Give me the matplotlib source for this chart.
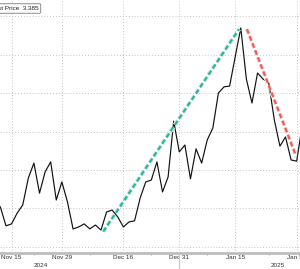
import matplotlib
matplotlib.use("Agg")
import matplotlib.pyplot as plt
import matplotlib.patheffects as pe
import matplotlib.transforms as mtransforms

# trading days shown (Bloomberg style axis: no gaps for weekends / holidays)
dates = [
    "2024-11-13", "2024-11-14", "2024-11-15", "2024-11-18", "2024-11-19",
    "2024-11-20", "2024-11-21", "2024-11-22", "2024-11-25", "2024-11-26",
    "2024-11-27", "2024-11-29", "2024-12-02", "2024-12-03", "2024-12-04",
    "2024-12-05", "2024-12-06", "2024-12-09", "2024-12-10", "2024-12-11",
    "2024-12-12", "2024-12-13", "2024-12-16", "2024-12-17", "2024-12-18",
    "2024-12-19", "2024-12-20", "2024-12-23", "2024-12-24", "2024-12-26",
    "2024-12-27", "2024-12-30", "2024-12-31", "2025-01-02", "2025-01-03",
    "2025-01-06", "2025-01-07", "2025-01-08", "2025-01-09", "2025-01-10",
    "2025-01-13", "2025-01-14", "2025-01-15", "2025-01-16", "2025-01-17",
    "2025-01-21", "2025-01-22", "2025-01-23", "2025-01-24", "2025-01-27",
    "2025-01-28", "2025-01-29", "2025-01-30", "2025-01-31", "2025-02-03",
]
last_price = [
    3.104, 3.055, 3.060, 3.088, 3.109, 3.179, 3.218, 3.140, 3.195, 3.221,
    3.122, 3.169, 3.117, 3.047, 3.052, 3.060, 3.047, 3.057, 3.044, 3.091,
    3.096, 3.078, 3.052, 3.065, 3.068, 3.127, 3.169, 3.174, 3.221, 3.143,
    3.182, 3.327, 3.247, 3.265, 3.177, 3.255, 3.218, 3.278, 3.309, 3.400,
    3.416, 3.418, 3.494, 3.569, 3.436, 3.374, 3.452, 3.436, 3.426, 3.330,
    3.262, 3.286, 3.226, 3.223, 3.317,
]

# hand drawn trend lines (position in trading days, value)
up_trend_pos = [18.4, 42.7]
up_trend_val = [3.040, 3.566]
down_trend_pos = [44.1, 52.9]
down_trend_val = [3.566, 3.236]

tick_dates = ["2024-11-15", "2024-11-29", "2024-12-16",
              "2024-12-31", "2025-01-15", "2025-01-31"]
tick_labels = ["Nov 15", "Nov 29", "Dec 16", "Dec 31", "Jan 15", "Jan 31"]
y_grid = [3.0, 3.1, 3.2, 3.3, 3.4, 3.5, 3.6]

W, H = 300, 269
fig = plt.figure(figsize=(W / 100, H / 100), dpi=100)
fig.patch.set_facecolor("white")
ax = fig.add_axes([0, 16 / H, 1, 253 / H])

pos = list(range(len(dates)))
ax.plot(pos, last_price, color="#111111", lw=0.85, zorder=3)

glow = [pe.withStroke(linewidth=3.2, foreground="#e6e6e6")]
ax.plot(up_trend_pos, up_trend_val, color="#1fb89c", lw=1.6,
        dashes=(2.2, 1.2), path_effects=glow, zorder=4)
ax.plot(down_trend_pos, down_trend_val, color="#f45a4e", lw=1.6,
        dashes=(2.2, 1.2), path_effects=glow, zorder=4)

ax.set_xlim(-0.066, 53.59)
ax.set_ylim(2.9844, 3.6416)

major = [dates.index(d) for d in tick_dates]
minor = [round((a + b) / 2) for a, b in zip(major[:-1], major[1:])]
ax.set_xticks(major)
ax.set_xticklabels(tick_labels, fontsize=4.6, color="#333333",
                   family="Liberation Sans")
ax.set_xticks(minor, minor=True)
ax.tick_params(axis="x", which="major", length=0, pad=1.5)
ax.tick_params(axis="x", which="minor", length=1.5, width=0.6,
               color="#999999")
ax.set_yticks(y_grid)
ax.tick_params(axis="y", length=0, labelleft=False)

ax.grid(True, which="major", color="#c4c4c4", lw=0.7, ls=(0, (1, 2)))
for s in ["top", "left", "right"]:
    ax.spines[s].set_visible(False)
ax.spines["bottom"].set_color("#bdbdbd")
ax.spines["bottom"].set_linewidth(2)

# year separator and labels
trans = mtransforms.blended_transform_factory(ax.transData, ax.transAxes)
ax.plot([dates.index("2024-12-31")] * 2, [0, -16 / 253], transform=trans,
        color="#c8c8c8", lw=0.8, clip_on=False)
fig.text(41 / W, 1 - 265.5 / H, "2024", fontsize=4.6, color="#333333",
         ha="center", va="center", family="Liberation Sans")
fig.text(278 / W, 1 - 265.5 / H, "2025", fontsize=4.6, color="#333333",
         ha="center", va="center", family="Liberation Sans")

# legend box (cut off on the left in the source)
fig.text(38.5 / W, 1 - 8.5 / H, "Last Price  3.385", fontsize=4.6,
         color="#222222", ha="right", va="center", family="Liberation Sans",
         bbox=dict(boxstyle="round,pad=0.35,rounding_size=0.2",
                   fc="white", ec="#777777", lw=0.6))

fig.savefig("out.png", dpi=100)
